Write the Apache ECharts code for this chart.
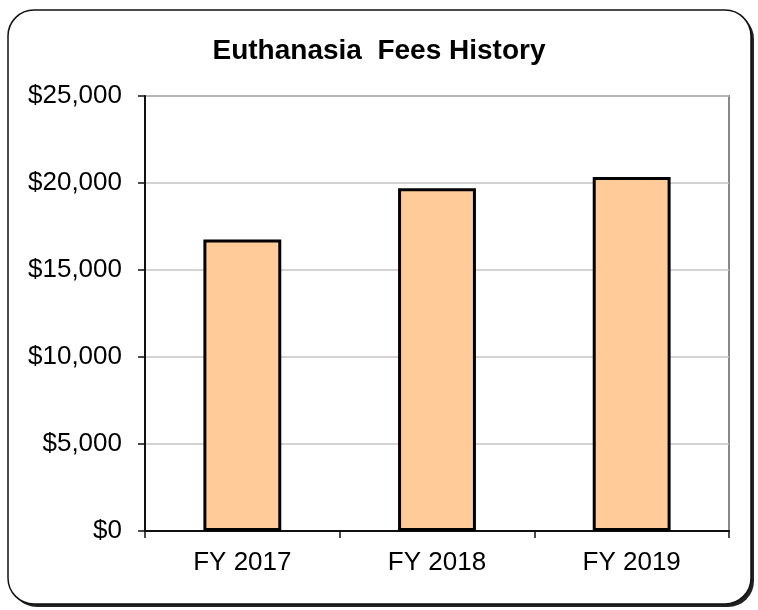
<!DOCTYPE html>
<html>
<head>
<meta charset="utf-8">
<script src="https://cdn.jsdelivr.net/npm/echarts@6/dist/echarts.min.js"></script>
<style>
  html, body { margin: 0; padding: 0; background: #fff; }
  #chart { width: 758px; height: 610px; }
</style>
</head>
<body>
<div id="chart"></div>
<script>
// 数据
const categories = ["FY 2017", "FY 2018", "FY 2019"];
const feeValues = [16750, 19700, 20350];
const yTicks = [0, 5000, 10000, 15000, 20000, 25000];

const fontName = "'Liberation Sans', Arial, sans-serif";

const chart = echarts.init(document.getElementById("chart"));

const option = {
  backgroundColor: "#fff",
  animation: false,
  // 外框 + 阴影
  graphic: [
    {
      type: "rect",
      z: -10,
      shape: { x: 11, y: 13, width: 743, height: 594, r: 26 },
      style: { fill: "#222" }
    },
    {
      type: "rect",
      z: -9,
      shape: { x: 8, y: 10, width: 743, height: 594, r: 26 },
      style: { fill: "#fff", stroke: "#111", lineWidth: 1.5 }
    }
  ],
  title: {
    text: "Euthanasia  Fees History",
    left: "center",
    top: 32,
    textStyle: {
      fontFamily: fontName,
      fontSize: 28,
      fontWeight: "bold",
      color: "#000"
    }
  },
  grid: {
    left: 145,
    right: 29,
    top: 96,
    bottom: 79,
    show: true,
    borderColor: "#888",
    borderWidth: 2
  },
  xAxis: {
    type: "category",
    data: categories,
    axisLine: { lineStyle: { color: "#111", width: 2 } },
    axisTick: { show: true, length: 7, lineStyle: { color: "#111", width: 1.5 } },
    axisLabel: {
      margin: 19,
      fontFamily: fontName,
      fontSize: 26,
      color: "#000"
    }
  },
  yAxis: {
    type: "value",
    min: yTicks[0],
    max: yTicks[yTicks.length - 1],
    interval: yTicks[1] - yTicks[0],
    axisLine: { show: true, lineStyle: { color: "#111", width: 2 } },
    axisTick: { show: true, length: 7, lineStyle: { color: "#111", width: 1.5 } },
    splitLine: { lineStyle: { color: "#c4c4c4", width: 1.5 } },
    axisLabel: {
      margin: 23,
      fontFamily: fontName,
      fontSize: 26,
      color: "#000",
      formatter: (v) => "$" + v.toLocaleString("en-US")
    }
  },
  series: [
    {
      type: "bar",
      data: feeValues,
      barWidth: "40%",
      itemStyle: {
        color: "#FFCC99",
        borderColor: "#000",
        borderWidth: 3
      }
    }
  ]
};

chart.setOption(option);
</script>
</body>
</html>
